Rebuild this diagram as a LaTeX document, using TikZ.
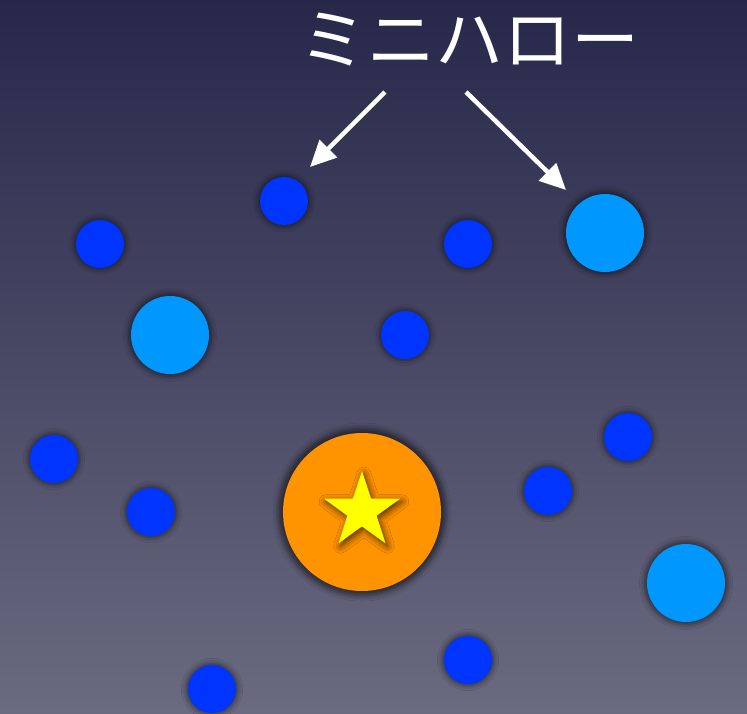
\documentclass[tikz,border=0pt]{standalone}
\usepackage{fontspec}
\newfontfamily\jpfont{Noto Sans CJK JP}
\usetikzlibrary{shapes.geometric,shadows.blur,arrows.meta}
\definecolor{bgtop}{HTML}{27274A}
\definecolor{bgbot}{HTML}{6A6A80}
\definecolor{smallblue}{HTML}{0034FF}
\definecolor{lightblue}{HTML}{0097FF}
\definecolor{halo}{HTML}{FF9300}
\definecolor{stary}{HTML}{FFFF00}
\tikzset{
  blob/.style={circle, inner sep=0pt, draw=none, blur shadow={shadow xshift=0pt, shadow yshift=0pt, shadow blur radius=5pt, shadow opacity=55, shadow scale=1.06}},
  mini/.style={blob, fill=smallblue, minimum size=48pt},
  big/.style={blob, fill=lightblue, minimum size=78pt},
  arr/.style={draw=white, line width=4.5pt, -{Triangle[length=26pt,width=24pt]}},
}
\begin{document}
\begin{tikzpicture}[x=1pt,y=-1pt]
\shade[top color=bgtop, bottom color=bgbot] (0,0) rectangle (747,713);
\useasboundingbox (0,0) rectangle (747,713);
\node[text=white, font=\jpfont\fontsize{68pt}{68pt}\selectfont, inner sep=0pt] (title) at (469,40) {ミニハロー};
\node[mini] (m1) at (284,201) {};
\node[mini] (m2) at (100,244) {};
\node[mini] (m3) at (468,244) {};
\node[mini] (m4) at (405,335) {};
\node[mini] (m5) at (54,459) {};
\node[mini] (m6) at (151,512) {};
\node[mini] (m7) at (548,491) {};
\node[mini] (m8) at (628,437) {};
\node[mini] (m9) at (468,660) {};
\node[mini] (m10) at (212,689) {};
\node[big] (b1) at (605,233) {};
\node[big] (b2) at (170,335) {};
\node[big] (b3) at (686,583) {};
\node[blob, fill=halo, minimum size=158pt] (h) at (362,512) {};
\node[star, star points=5, star point ratio=2.6, fill=stary, minimum size=80pt, inner sep=0pt,
  blur shadow={shadow xshift=2pt, shadow yshift=-3pt, shadow blur radius=7pt, shadow opacity=70}] (s) at (362,511) {};
\coordinate (a1s) at (385,92);
\coordinate (a1e) at (310,167);
\coordinate (a2s) at (466,92);
\coordinate (a2e) at (566,190);
\draw[arr] (a1s) -- (a1e);
\draw[arr] (a2s) -- (a2e);
\end{tikzpicture}
\end{document}
